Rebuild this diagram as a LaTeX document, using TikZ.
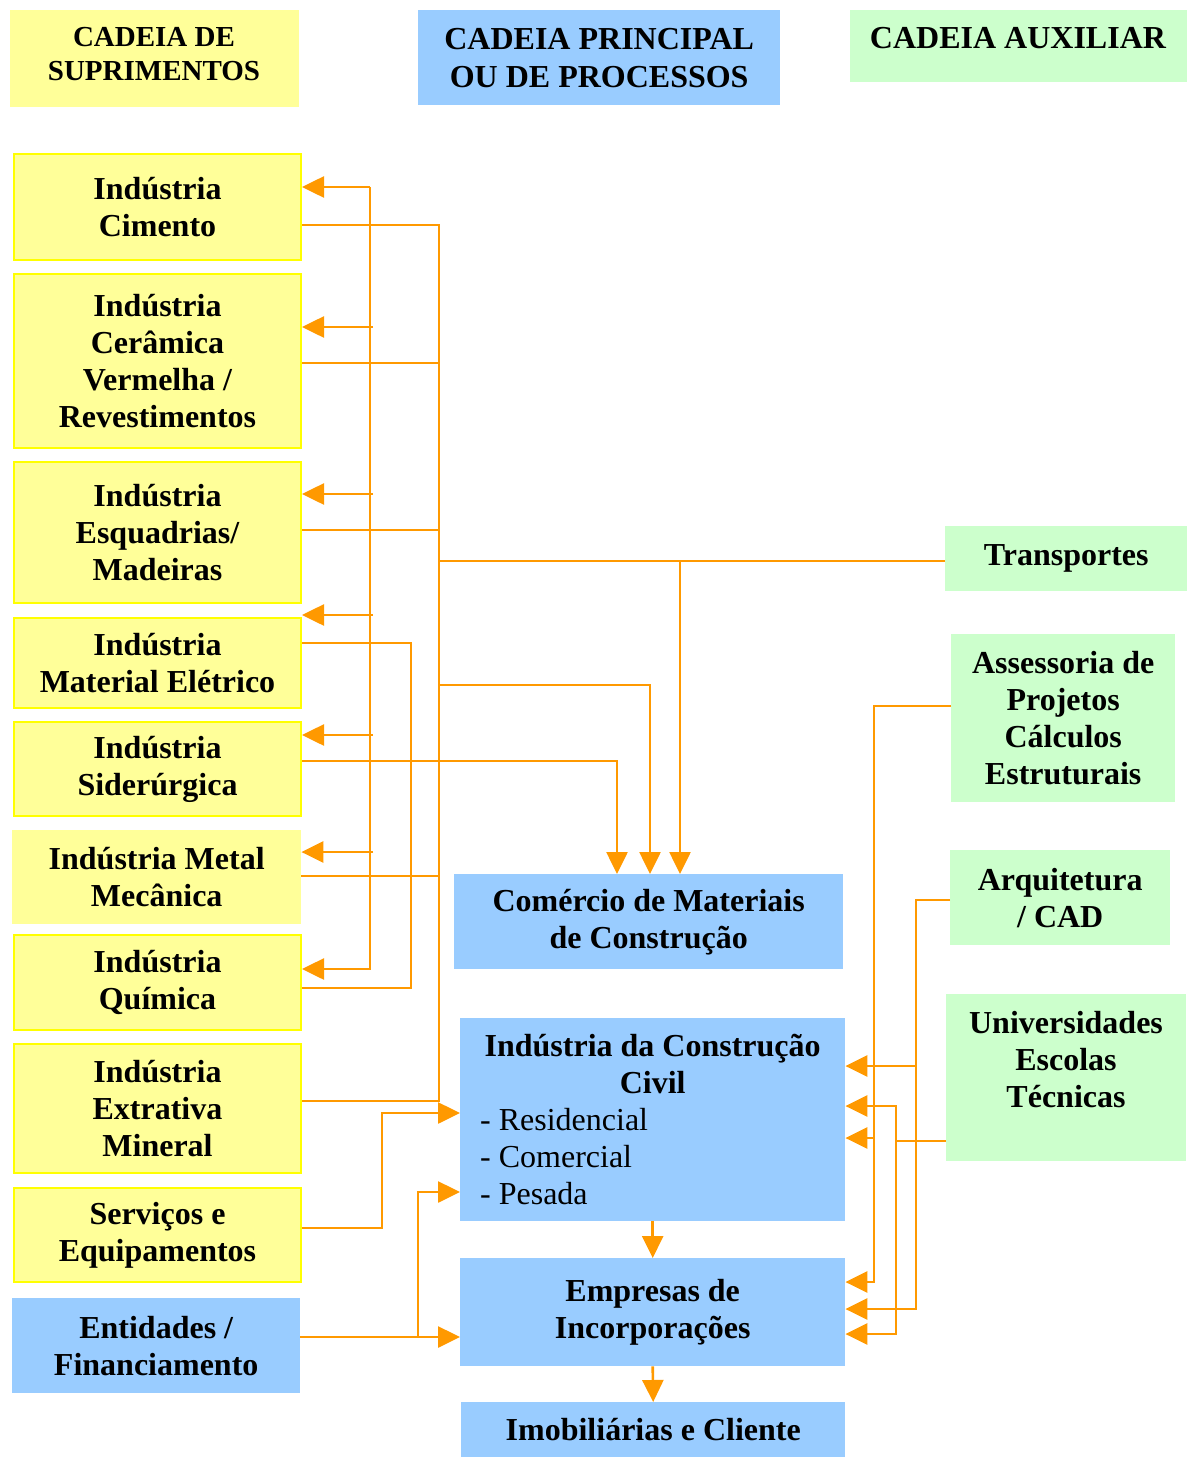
\documentclass[tikz,border=0pt]{standalone}
\usepackage{fontspec}
\setmainfont{Liberation Serif}
\usetikzlibrary{arrows.meta}
\definecolor{yfill}{HTML}{FFFF99}
\definecolor{yline}{HTML}{FFFF00}
\definecolor{bfill}{HTML}{99CCFF}
\definecolor{gfill}{HTML}{CCFFCC}
\definecolor{org}{HTML}{FF9900}
\begin{document}
\begin{tikzpicture}[x=1pt,y=-1pt,
  every node/.style={inner sep=0pt, align=center, font=\fontsize{32}{37}\selectfont\bfseries},
  box/.style={anchor=north west},
  ybox/.style={box, fill=yfill, draw=yline, line width=2pt},
  ynob/.style={box, fill=yfill},
  bbox/.style={box, fill=bfill},
  gbox/.style={box, fill=gfill},
  ln/.style={draw=org, line width=2.6pt},
  arr/.style={ln, -{Triangle[length=22pt,width=21pt]}},
]
\useasboundingbox (0,0) rectangle (1188,1458);

% headers
\node[ynob, minimum width=289pt, minimum height=97pt] (hs) at (10,10) {};
\node[font=\fontsize{29}{34}\selectfont\bfseries] (hst) at (154,54) {CADEIA DE\\SUPRIMENTOS};
\node[bbox, minimum width=362pt, minimum height=95pt, font=\fontsize{32}{38}\selectfont\bfseries] (hp) at (418,10) {CADEIA PRINCIPAL\\OU DE PROCESSOS};
\node[gbox, minimum width=337pt, minimum height=72pt] (ha) at (850,10) {};
\node (hat) at (1018,38) {CADEIA AUXILIAR};

% supply chain
\node[ybox, minimum width=287pt, minimum height=106pt] (cim) at (13,153) {Indústria\\Cimento};
\node[ybox, minimum width=287pt, minimum height=174pt] (cer) at (13,273) {Indústria\\Cerâmica\\Vermelha /\\Revestimentos};
\node[ybox, minimum width=287pt, minimum height=141pt] (esq) at (13,461) {Indústria\\Esquadrias/\\Madeiras};
\node[ybox, minimum width=287pt, minimum height=90pt] (ele) at (13,617) {Indústria\\Material Elétrico};
\node[ybox, minimum width=287pt, minimum height=94pt] (sid) at (13,721) {Indústria\\Siderúrgica};
\node[ynob, minimum width=289pt, minimum height=94pt] (met) at (12,830) {Indústria Metal\\Mecânica};
\node[ybox, minimum width=287pt, minimum height=95pt] (qui) at (13,934) {Indústria\\Química};
\node[ybox, minimum width=287pt, minimum height=129pt] (ext) at (13,1043) {Indústria\\Extrativa\\Mineral};
\node[ybox, minimum width=287pt, minimum height=94pt] (ser) at (13,1187) {Serviços e\\Equipamentos};
\node[bbox, minimum width=288pt, minimum height=95pt] (ent) at (12,1298) {Entidades /\\Financiamento};

% main chain
\node[bbox, minimum width=389pt, minimum height=95pt] (com) at (454,874) {Comércio de Materiais\\de Construção};
\node[bbox, minimum width=385pt, minimum height=203pt] (icc) at (460,1018) {};
\node (icct) at (icc.center) {Indústria da Construção\\Civil\\\makebox[345pt][l]{\mdseries - Residencial}\\\makebox[345pt][l]{\mdseries - Comercial}\\\makebox[345pt][l]{\mdseries - Pesada}};
\node[bbox, minimum width=385pt, minimum height=108pt] (emp) at (460,1258) {Empresas de\\Incorporações};
\node[bbox, minimum width=384pt, minimum height=55pt] (imo) at (461,1402) {Imobiliárias e Cliente};

% auxiliary chain
\node[gbox, minimum width=242pt, minimum height=65pt] (tra) at (945,526) {Transportes};
\node[gbox, minimum width=224pt, minimum height=168pt] (ass) at (951,634) {Assessoria de\\Projetos\\Cálculos\\Estruturais};
\node[gbox, minimum width=220pt, minimum height=95pt] (arq) at (950,850) {Arquitetura\\/ CAD};
\node[gbox, minimum width=240pt, minimum height=167pt] (uni) at (946,994) {};
\node (unit) at (1066,1060) {Universidades\\Escolas\\Técnicas};

% bus A (distribution to suppliers)
\coordinate (aT) at (370,187);
\coordinate (aB) at (370,969);
\draw[arr] (aT) -- (aB) -- (aB -| qui.east);
\draw[arr] (aT) -- (aT -| cim.east);
\foreach \n/\y in {cer/327, esq/494, ele/615, sid/735, met/852}
  \draw[arr] (373,\y) coordinate (s) -- (s -| \n.east);

% bus B (collection from suppliers)
\coordinate (bT) at (439,225);
\coordinate (bB) at (439,1101);
\draw[ln] (cim.east |- bT) -- (bT) -- (bB) -- (bB -| ext.east);
\foreach \n/\y in {cer/363, esq/530, met/876}
  \draw[ln] (439,\y) coordinate (s) -- (s -| \n.east);

% transportes
\coordinate (tx) at (680,0);
\coordinate (ty) at (0,561);
\draw[ln] (tra.west |- ty) -- (bT |- ty);
\draw[arr] (tx |- ty) -- (tx |- com.north);

% bus B to comercio
\coordinate (c1) at (439,685);
\coordinate (c2) at (650,685);
\draw[arr] (c1) -- (c2) -- (c2 |- com.north);

% siderurgica to comercio
\coordinate (d1) at (617,761);
\draw[arr] (sid.east |- d1) -- (d1) -- (d1 |- com.north);

% bus C
\coordinate (e1) at (411,643);
\coordinate (e2) at (411,988);
\draw[ln] (ele.east |- e1) -- (e1) -- (e2) -- (e2 -| qui.east);

% servicos
\coordinate (f1) at (382,1228);
\coordinate (f2) at (382,1113);
\draw[arr] (ser.east |- f1) -- (f1) -- (f2) -- (f2 -| icc.west);

% entidades
\coordinate (g1) at (418,1337);
\coordinate (g2) at (418,1192);
\draw[arr] (ent.east |- g1) -- (g1 -| emp.west);
\draw[arr] (g1) -- (g2) -- (g2 -| icc.west);

% main chain flow
\draw[arr] (icc.south) -- (emp.north);
\draw[arr] (emp.south) -- (imo.north);

% assessoria
\coordinate (h1) at (874,706);
\coordinate (h2) at (874,1282);
\draw[arr] (ass.west |- h1) -- (h1) -- (h2) -- (h2 -| emp.east);
\draw[arr] (874,1138) coordinate (s) -- (s -| icc.east);

% arquitetura
\coordinate (i1) at (916,900);
\coordinate (i2) at (916,1309);
\draw[arr] (arq.west |- i1) -- (i1) -- (i2) -- (i2 -| emp.east);
\draw[arr] (916,1066) coordinate (s) -- (s -| icc.east);

% universidades
\coordinate (j1) at (896,1141);
\coordinate (jT) at (896,1106);
\coordinate (jB) at (896,1334);
\draw[ln] (uni.west |- j1) -- (j1);
\draw[arr] (j1) -- (jT) -- (jT -| icc.east);
\draw[arr] (j1) -- (jB) -- (jB -| emp.east);
\end{tikzpicture}
\end{document}
